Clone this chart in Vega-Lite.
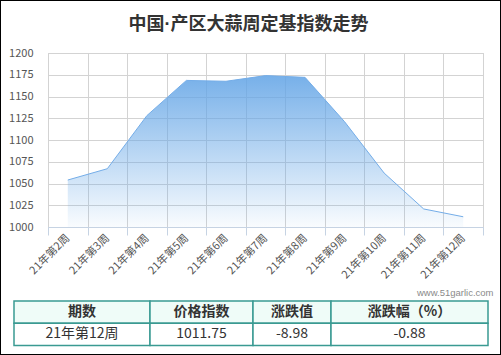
{
  "$schema": "https://vega.github.io/schema/vega-lite/v6.json",
  "width": 435,
  "height": 174,
  "autosize": {"type": "none"},
  "padding": {"left": 48, "top": 53, "right": 18, "bottom": 128},
  "background": "#ffffff",
  "title": {
    "text": "中国·产区大蒜周定基指数走势",
    "font": "'Liberation Sans', 'Noto Sans CJK SC'",
    "fontSize": 18,
    "fontWeight": "bold",
    "color": "#333333",
    "anchor": "middle",
    "baseline": "top",
    "offset": -35,
    "dx": -17
  },
  "config": {
    "font": "Noto Sans CJK SC",
    "view": {"stroke": "#cccccc"}
  },
  "datasets": {
    "weeks": [
      {"week": "21年第2周", "index": 1054},
      {"week": "21年第3周", "index": 1067},
      {"week": "21年第4周", "index": 1128},
      {"week": "21年第5周", "index": 1168.5},
      {"week": "21年第6周", "index": 1167.5},
      {"week": "21年第7周", "index": 1174},
      {"week": "21年第8周", "index": 1172},
      {"week": "21年第9周", "index": 1121},
      {"week": "21年第10周", "index": 1062},
      {"week": "21年第11周", "index": 1020.73},
      {"week": "21年第12周", "index": 1011.75}
    ],
    "table": [
      {"col": "期数", "row": "header", "text": "期数"},
      {"col": "价格指数", "row": "header", "text": "价格指数"},
      {"col": "涨跌值", "row": "header", "text": "涨跌值"},
      {"col": "涨跌幅", "row": "header", "text": "涨跌幅（%）"},
      {"col": "期数", "row": "data", "text": "21年第12周"},
      {"col": "价格指数", "row": "data", "text": "1011.75"},
      {"col": "涨跌值", "row": "data", "text": "-8.98"},
      {"col": "涨跌幅", "row": "data", "text": "-0.88"}
    ],
    "frame": [{"part": "frame"}]
  },
  "layer": [
    {
      "data": {"name": "frame"},
      "mark": {"type": "rect", "filled": false, "color": "#000000", "strokeWidth": 2, "clip": false},
      "encoding": {
        "x": {"datum": 0, "type": "quantitative", "scale": {"domain": [0, 1], "range": [-48, 453]}, "axis": null},
        "x2": {"datum": 1},
        "y": {"datum": 0, "type": "quantitative", "scale": {"domain": [0, 1], "range": [-53, 302]}, "axis": null},
        "y2": {"datum": 1}
      }
    },
    {
      "data": {"name": "weeks"},
      "encoding": {
        "x": {
          "field": "week",
          "type": "nominal",
          "sort": null,
          "bandPosition": 0.5,
          "scale": {"type": "band", "paddingInner": 0, "paddingOuter": 0},
          "axis": {
            "title": "www.51garlic.com",
            "titleFont": "Liberation Sans",
            "titleFontSize": 9.5,
            "titleFontWeight": "normal",
            "titleColor": "#8a8a8a",
            "titleAnchor": "end",
            "titleAlign": "right",
            "titleBaseline": "middle",
            "titleX": 445,
            "titleY": 65,
            "labelAngle": -45,
            "labelAlign": "right",
            "labelBaseline": "middle",
            "labelFontSize": 11,
            "labelColor": "#555555",
            "labelPadding": 1,
            "tickBand": "extent",
            "ticks": true,
            "tickSize": 8,
            "tickColor": "#c6d3e3",
            "domain": true,
            "domainColor": "#c6d3e3",
            "grid": true,
            "gridColor": "#d3d3d3"
          }
        },
        "y": {
          "field": "index",
          "type": "quantitative",
          "scale": {"domain": [1000, 1200], "zero": false, "nice": false},
          "axis": {
            "title": null,
            "format": "d",
            "values": [1000, 1025, 1050, 1075, 1100, 1125, 1150, 1175, 1200],
            "domain": false,
            "ticks": false,
            "tickSize": 0,
            "labelPadding": 15,
            "labelFontSize": 11,
            "labelColor": "#555555",
            "grid": true,
            "gridColor": "#d3d3d3"
          }
        }
      },
      "layer": [
        {
          "mark": {
            "type": "area",
            "fill": {
              "gradient": "linear",
              "x1": 0, "y1": 0, "x2": 0, "y2": 1,
              "stops": [
                {"offset": 0, "color": "rgba(100,165,230,0.88)"},
                {"offset": 1, "color": "rgba(100,165,230,0.04)"}
              ]
            }
          },
          "encoding": {"y2": {"datum": 1000}}
        },
        {
          "mark": {"type": "line", "color": "#74ade8", "strokeWidth": 1}
        }
      ]
    },
    {
      "data": {"name": "table"},
      "transform": [{"filter": "datum.col === '期数'"}],
      "encoding": {
        "x": {"field": "col", "type": "nominal", "scale": {"type": "band", "domain": ["期数"], "range": [-34, 102], "paddingInner": 0, "paddingOuter": 0}, "axis": null},
        "y": {"field": "row", "type": "nominal", "scale": {"type": "band", "domain": ["header", "data"], "range": [248, 292.5], "paddingInner": 0, "paddingOuter": 0}, "axis": null}
      },
      "layer": [
        {"mark": {"type": "rect", "stroke": "#3a9a92", "strokeWidth": 1.5, "clip": false},
         "encoding": {"fill": {"field": "row", "type": "nominal", "scale": {"domain": ["header", "data"], "range": ["#effcf8", "#ffffff"]}, "legend": null}}},
        {"transform": [{"filter": "datum.row === 'header'"}], "mark": {"type": "text", "fontSize": 14, "fontWeight": "bold", "color": "#333333", "clip": false}, "encoding": {"text": {"field": "text"}}},
        {"transform": [{"filter": "datum.row === 'data'"}], "mark": {"type": "text", "fontSize": 14, "color": "#333333", "clip": false}, "encoding": {"text": {"field": "text"}}}
      ]
    },
    {
      "data": {"name": "table"},
      "transform": [{"filter": "datum.col === '价格指数'"}],
      "encoding": {
        "x": {"field": "col", "type": "nominal", "scale": {"type": "band", "domain": ["价格指数"], "range": [102, 205], "paddingInner": 0, "paddingOuter": 0}, "axis": null},
        "y": {"field": "row", "type": "nominal", "scale": {"type": "band", "domain": ["header", "data"], "range": [248, 292.5], "paddingInner": 0, "paddingOuter": 0}, "axis": null}
      },
      "layer": [
        {"mark": {"type": "rect", "stroke": "#3a9a92", "strokeWidth": 1.5, "clip": false},
         "encoding": {"fill": {"field": "row", "type": "nominal", "scale": {"domain": ["header", "data"], "range": ["#effcf8", "#ffffff"]}, "legend": null}}},
        {"transform": [{"filter": "datum.row === 'header'"}], "mark": {"type": "text", "fontSize": 14, "fontWeight": "bold", "color": "#333333", "clip": false}, "encoding": {"text": {"field": "text"}}},
        {"transform": [{"filter": "datum.row === 'data'"}], "mark": {"type": "text", "fontSize": 14, "color": "#333333", "clip": false}, "encoding": {"text": {"field": "text"}}}
      ]
    },
    {
      "data": {"name": "table"},
      "transform": [{"filter": "datum.col === '涨跌值'"}],
      "encoding": {
        "x": {"field": "col", "type": "nominal", "scale": {"type": "band", "domain": ["涨跌值"], "range": [205, 283], "paddingInner": 0, "paddingOuter": 0}, "axis": null},
        "y": {"field": "row", "type": "nominal", "scale": {"type": "band", "domain": ["header", "data"], "range": [248, 292.5], "paddingInner": 0, "paddingOuter": 0}, "axis": null}
      },
      "layer": [
        {"mark": {"type": "rect", "stroke": "#3a9a92", "strokeWidth": 1.5, "clip": false},
         "encoding": {"fill": {"field": "row", "type": "nominal", "scale": {"domain": ["header", "data"], "range": ["#effcf8", "#ffffff"]}, "legend": null}}},
        {"transform": [{"filter": "datum.row === 'header'"}], "mark": {"type": "text", "fontSize": 14, "fontWeight": "bold", "color": "#333333", "clip": false}, "encoding": {"text": {"field": "text"}}},
        {"transform": [{"filter": "datum.row === 'data'"}], "mark": {"type": "text", "fontSize": 14, "color": "#333333", "clip": false}, "encoding": {"text": {"field": "text"}}}
      ]
    },
    {
      "data": {"name": "table"},
      "transform": [{"filter": "datum.col === '涨跌幅'"}],
      "encoding": {
        "x": {"field": "col", "type": "nominal", "scale": {"type": "band", "domain": ["涨跌幅"], "range": [283, 440], "paddingInner": 0, "paddingOuter": 0}, "axis": null},
        "y": {"field": "row", "type": "nominal", "scale": {"type": "band", "domain": ["header", "data"], "range": [248, 292.5], "paddingInner": 0, "paddingOuter": 0}, "axis": null}
      },
      "layer": [
        {"mark": {"type": "rect", "stroke": "#3a9a92", "strokeWidth": 1.5, "clip": false},
         "encoding": {"fill": {"field": "row", "type": "nominal", "scale": {"domain": ["header", "data"], "range": ["#effcf8", "#ffffff"]}, "legend": null}}},
        {"transform": [{"filter": "datum.row === 'header'"}], "mark": {"type": "text", "fontSize": 14, "fontWeight": "bold", "color": "#333333", "clip": false}, "encoding": {"text": {"field": "text"}}},
        {"transform": [{"filter": "datum.row === 'data'"}], "mark": {"type": "text", "fontSize": 14, "color": "#333333", "clip": false}, "encoding": {"text": {"field": "text"}}}
      ]
    }
  ],
  "resolve": {"scale": {"x": "independent", "y": "independent"}}
}
